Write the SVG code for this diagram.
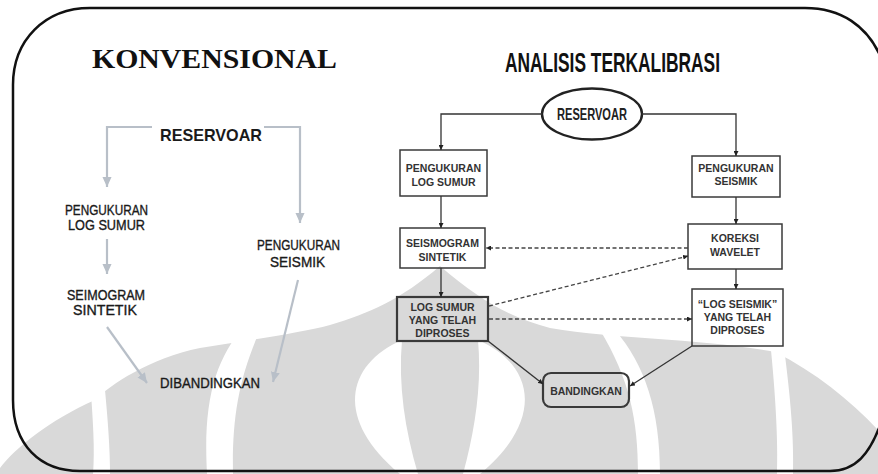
<svg xmlns="http://www.w3.org/2000/svg" width="878" height="474" viewBox="0 0 878 474">
  <defs>
    <style>
      .frame { fill: none; stroke: #111; stroke-width: 2.5; }
      .wm { fill: #d9d9d9; stroke: none; }
      .wmcut { fill: #ffffff; stroke: none; }
      .title-serif { font-family: "Liberation Serif", "Times New Roman", serif; font-weight: bold; font-size: 27px; fill: #111; }
      .title-cond { font-family: "Liberation Sans", Arial, sans-serif; font-weight: bold; font-size: 28px; fill: #111; }
      .ltxt { font-family: "Liberation Sans", Arial, sans-serif; font-size: 14px; fill: #1a1a1a; stroke: #1a1a1a; stroke-width: 0.35; text-anchor: middle; }
      .lres { font-family: "Liberation Sans", Arial, sans-serif; font-weight: bold; font-size: 17px; fill: #1a1a1a; text-anchor: middle; }
      .gline { fill: none; stroke: #b8bfc8; stroke-width: 2.2; }
      .box { fill: none; stroke: #3a3a3a; stroke-width: 1.5; }
      .boxb { fill: none; stroke: #3a3a3a; stroke-width: 2.2; }
      .btxt { font-family: "Liberation Sans", Arial, sans-serif; font-weight: bold; font-size: 10.5px; fill: #333; text-anchor: middle; }
      .rres { font-family: "Liberation Sans", Arial, sans-serif; font-weight: bold; font-size: 16.5px; fill: #222; text-anchor: middle; }
      .solid { fill: none; stroke: #333; stroke-width: 1.3; }
      .dash { fill: none; stroke: #444; stroke-width: 1.3; stroke-dasharray: 4 2.5; }
    </style>
    <marker id="garrow" markerUnits="userSpaceOnUse" markerWidth="10" markerHeight="12" refX="11" refY="5" orient="auto" viewBox="0 0 11 10">
      <path d="M0,0 L11,5 L0,10 Z" fill="#b8bfc8"/>
    </marker>
    <marker id="darrow" markerUnits="userSpaceOnUse" markerWidth="5" markerHeight="5" refX="5" refY="2.5" orient="auto" viewBox="0 0 5 5">
      <path d="M0,0 L5,2.5 L0,5 Z" fill="#222"/>
    </marker>
  </defs>

  <rect width="878" height="474" fill="#ffffff"/>

  <!-- faint emblem in the background -->
  <g id="emblem">
    <path class="wm" d="M 0,474 L 0,468 C 15,448 50,420 95,400 C 110,385 150,358 200,348 C 250,340 300,333 330,325 C 370,313 400,300 440,266 C 480,300 510,318 550,328 C 620,340 700,338 775,352 C 815,372 850,400 878,430 L 878,474 Z"/>
    <path class="wmcut" d="M 90,380 C 93,420 95,450 93,474 L 110,474 C 110,450 108,420 104,380 Z"/>
    <path class="wmcut" d="M 770,340 C 776,400 778,440 777,474 L 793,474 C 794,440 791,400 783,340 Z"/>
    <path class="wmcut" d="M 245,325 C 215,360 203,400 207,474 L 233,474 C 232,420 238,380 260,330 Z"/>
    <path class="wmcut" d="M 615,330 C 645,365 660,410 660,474 L 638,474 C 638,420 630,380 600,330 Z"/>
    <path class="wmcut" d="M 402,340 C 345,365 335,420 400,474 L 418,474 C 405,430 398,385 402,340 Z"/>
    <path class="wmcut" d="M 478,340 C 535,365 545,420 480,474 L 463,474 C 475,430 482,385 478,340 Z"/>
  </g>

  <!-- rounded outer frame -->
  <path class="frame" d="M 90,8 L 805,8 C 840,8 868,25 882,60 L 882,420 C 870,455 855,471 830,471 L 80,471 C 40,471 13,445 13,400 L 13,85 C 13,40 45,8 90,8 Z"/>

  <!-- headings -->
  <text class="title-serif" x="92" y="68" textLength="245" lengthAdjust="spacingAndGlyphs">KONVENSIONAL</text>
  <text class="title-cond" x="505" y="72" textLength="215" lengthAdjust="spacingAndGlyphs">ANALISIS TERKALIBRASI</text>

  <!-- conventional flow -->
  <g id="k-reservoar"><text class="lres" x="211" y="141" textLength="102" lengthAdjust="spacingAndGlyphs">RESERVOAR</text></g>
  <g id="k-log">
    <text class="ltxt" x="106.5" y="215" textLength="83" lengthAdjust="spacingAndGlyphs">PENGUKURAN</text>
    <text class="ltxt" x="106.5" y="230" textLength="77" lengthAdjust="spacingAndGlyphs">LOG SUMUR</text>
  </g>
  <g id="k-seismogram">
    <text class="ltxt" x="106" y="300" textLength="78" lengthAdjust="spacingAndGlyphs">SEIMOGRAM</text>
    <text class="ltxt" x="105" y="315" textLength="64" lengthAdjust="spacingAndGlyphs">SINTETIK</text>
  </g>
  <g id="k-seismik">
    <text class="ltxt" x="298.5" y="250" textLength="83" lengthAdjust="spacingAndGlyphs">PENGUKURAN</text>
    <text class="ltxt" x="297.5" y="267" textLength="55" lengthAdjust="spacingAndGlyphs">SEISMIK</text>
  </g>
  <g id="k-dibandingkan"><text class="ltxt" x="210" y="388" textLength="100" lengthAdjust="spacingAndGlyphs">DIBANDINGKAN</text></g>

  <!-- calibrated flow nodes -->
  <g id="a-reservoar">
    <ellipse cx="592" cy="114" rx="50" ry="25.5" fill="none" stroke="#222" stroke-width="2.4"/>
    <text class="rres" x="592" y="119.5" textLength="70" lengthAdjust="spacingAndGlyphs">RESERVOAR</text>
  </g>
  <g id="a-log">
    <rect class="box" x="400" y="150" width="87" height="46"/>
    <text class="btxt" x="443.5" y="172">PENGUKURAN</text>
    <text class="btxt" x="443.5" y="186">LOG SUMUR</text>
  </g>
  <g id="a-seismik">
    <rect class="box" x="692" y="156" width="88" height="41"/>
    <text class="btxt" x="736" y="172">PENGUKURAN</text>
    <text class="btxt" x="736" y="185">SEISMIK</text>
  </g>
  <g id="a-seismogram">
    <rect class="box" x="400" y="228" width="85" height="40"/>
    <text class="btxt" x="442.5" y="247">SEISMOGRAM</text>
    <text class="btxt" x="442.5" y="261">SINTETIK</text>
  </g>
  <g id="a-wavelet">
    <rect class="box" x="688" y="224" width="94" height="45"/>
    <text class="btxt" x="735" y="242">KOREKSI</text>
    <text class="btxt" x="735" y="256">WAVELET</text>
  </g>
  <g id="a-logproc">
    <rect class="boxb" x="397" y="297" width="91" height="44"/>
    <text class="btxt" x="442.5" y="311">LOG SUMUR</text>
    <text class="btxt" x="442.5" y="324">YANG TELAH</text>
    <text class="btxt" x="442.5" y="337">DIPROSES</text>
  </g>
  <g id="a-seisproc">
    <rect class="box" x="692" y="289" width="91" height="57"/>
    <text class="btxt" x="737.5" y="308">“LOG SEISMIK”</text>
    <text class="btxt" x="737.5" y="321">YANG TELAH</text>
    <text class="btxt" x="737.5" y="334">DIPROSES</text>
  </g>
  <g id="a-bandingkan">
    <rect class="boxb" x="543" y="373" width="86" height="34" rx="8" ry="8"/>
    <text class="btxt" x="586" y="395">BANDINGKAN</text>
  </g>

  <!-- connectors -->
  <g id="connectors">
    <path class="gline" d="M 152,127 H 107 V 187" marker-end="url(#garrow)"/>
    <path class="gline" d="M 264,127 H 300 V 223" marker-end="url(#garrow)"/>
    <path class="gline" d="M 107,239 V 274" marker-end="url(#garrow)"/>
    <path class="gline" d="M 107,327 L 147,383" marker-end="url(#garrow)"/>
    <path class="gline" d="M 298,280 L 273,382" marker-end="url(#garrow)"/>

    <path class="solid" d="M 542,114 H 441 V 150" marker-end="url(#darrow)"/>
    <path class="solid" d="M 642,114 H 736 V 156" marker-end="url(#darrow)"/>
    <path class="solid" d="M 441,196 V 228" marker-end="url(#darrow)"/>
    <path class="solid" d="M 736,197 V 224" marker-end="url(#darrow)"/>
    <path class="solid" d="M 441,268 V 297" marker-end="url(#darrow)"/>
    <path class="solid" d="M 736,269 V 289" marker-end="url(#darrow)"/>
    <path class="dash" d="M 688,248 H 486" marker-end="url(#darrow)"/>
    <path class="dash" d="M 489,306 L 688,256" marker-end="url(#darrow)"/>
    <path class="dash" d="M 489,319 H 692" marker-end="url(#darrow)"/>
    <path class="solid" d="M 488,341 L 543,384" marker-end="url(#darrow)"/>
    <path class="solid" d="M 692,346 L 630,386" marker-end="url(#darrow)"/>
  </g>
</svg>
